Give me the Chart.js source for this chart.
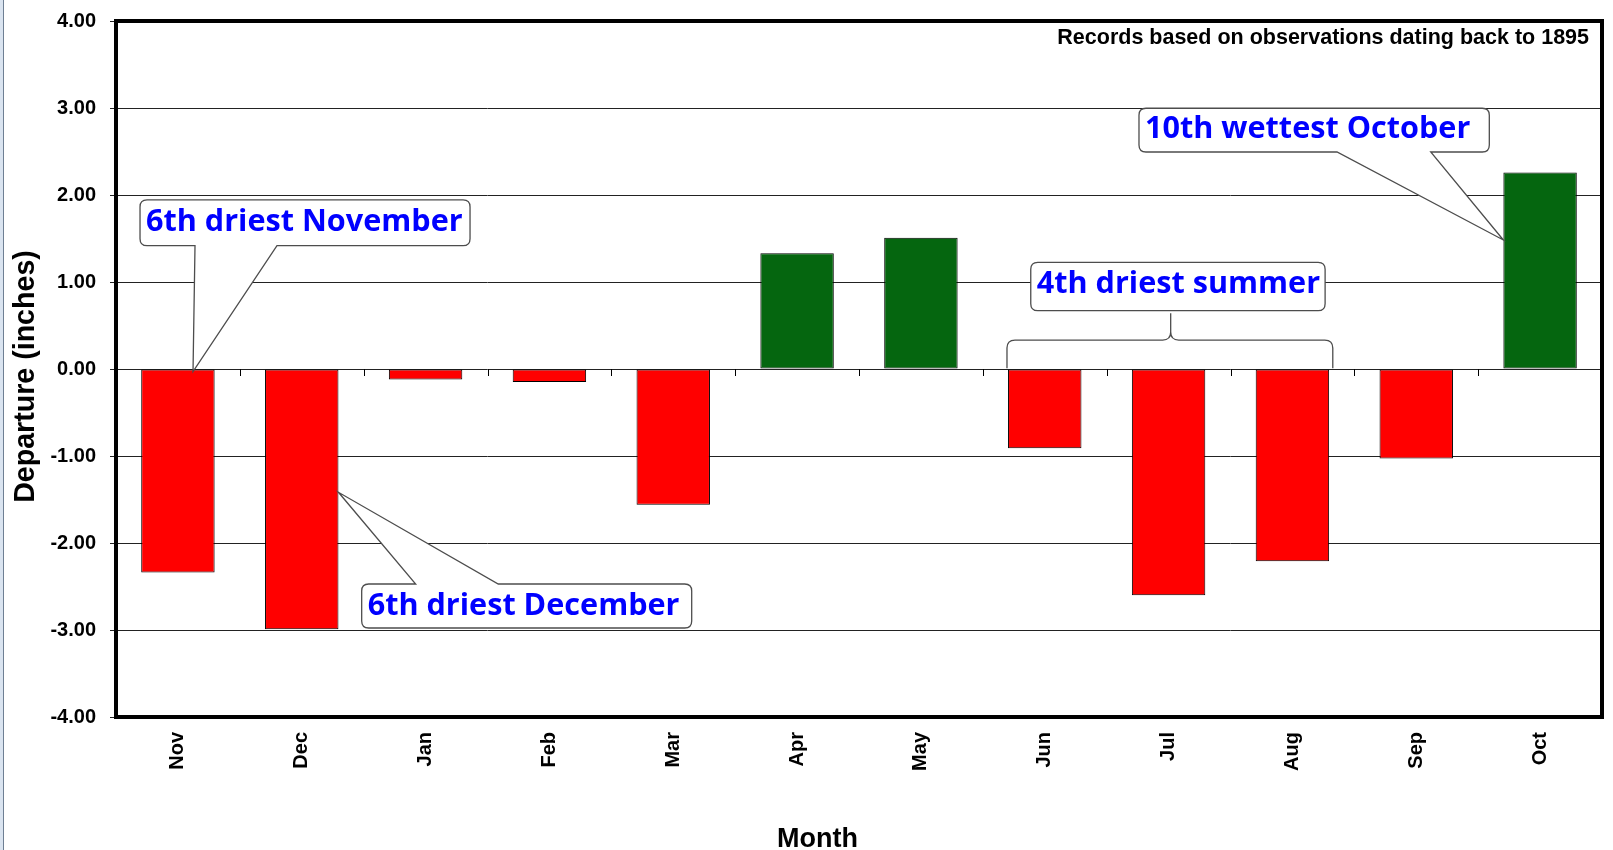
<!DOCTYPE html>
<html><head><meta charset="utf-8">
<script src="https://cdn.jsdelivr.net/npm/chart.js@4.4.1/dist/chart.umd.min.js"></script>
<style>
html,body{margin:0;padding:0;background:#fff;}
#wrap{position:relative;width:1613px;height:850px;overflow:hidden;background:#fff;}
#edge1{position:absolute;left:0;top:0;width:3px;height:850px;background:#dae4f0;}
#edge2{position:absolute;left:3px;top:0;width:1px;height:850px;background:#6e7f93;}
canvas{position:absolute;left:0;top:0;}
</style></head>
<body><div id="wrap"><canvas id="c" width="1613" height="850"></canvas><div id="edge1"></div><div id="edge2"></div></div>
<script>
// ---- data ----
const months = ['Nov','Dec','Jan','Feb','Mar','Apr','May','Jun','Jul','Aug','Sep','Oct'];
const departures = [-2.34,-2.99,-0.12,-0.15,-1.56,1.33,1.51,-0.91,-2.60,-2.21,-1.03,2.26];
const yTickValues = [-4,-3,-2,-1,0,1,2,3,4];
const yTitle = 'Departure (inches)';
const xTitle = 'Month';
const noteText = 'Records based on observations dating back to 1895';
const calloutTexts = ['6th driest November','6th driest December','4th driest summer','10th wettest October'];

// ---- annotation geometry (in data units: category index / value) ----
const callouts = [
  {text: calloutTexts[0], x0:-0.306, x1:2.359, yTop:1.943, yBot:1.417, side:'bottom', b0:0.138, b1:0.800, tipX:0.122, tipY:-0.03, base:31.5},
  {text: calloutTexts[1], x0:1.484, x1:4.149, yTop:-2.471, yBot:-2.977, side:'top', b0:1.920, b1:2.587, tipX:1.2965, tipY:-1.417, base:31},
  {text: calloutTexts[2], x0:6.887, x1:9.264, yTop:1.226, yBot:0.670, side:null, base:30.5},
  {text: calloutTexts[3], x0:7.761, x1:10.590, yTop:2.997, yBot:2.494, side:'bottom', b0:9.360, b1:10.117, tipX:10.7035, tipY:1.483, base:29.5}
];
const brace = {x0:6.695, x1:9.326, xPeak:8.017, yBase:0.01, yMid:0.333, yPeak:0.640};

const FONT = 'Liberation Sans';
const RED = '#ff0000', GREEN = '#05660f';

function calloutPath(ctx, l, t, r, b, rad, side, bx0, bx1, tx, ty){
  ctx.beginPath();
  ctx.moveTo(l+rad, t);
  if(side==='top'){ ctx.lineTo(bx0,t); ctx.lineTo(tx,ty); ctx.lineTo(bx1,t); }
  ctx.lineTo(r-rad,t);
  ctx.quadraticCurveTo(r,t,r,t+rad);
  ctx.lineTo(r,b-rad);
  ctx.quadraticCurveTo(r,b,r-rad,b);
  if(side==='bottom'){ ctx.lineTo(bx1,b); ctx.lineTo(tx,ty); ctx.lineTo(bx0,b); }
  ctx.lineTo(l+rad,b);
  ctx.quadraticCurveTo(l,b,l,b-rad);
  ctx.lineTo(l,t+rad);
  ctx.quadraticCurveTo(l,t,l+rad,t);
  ctx.closePath();
}

const annotPlugin = {
  id:'annot',
  afterDatasetsDraw(chart){
    const {ctx, chartArea:a, scales:{x,y}} = chart;
    ctx.save();
    // tick marks on the zero line
    ctx.strokeStyle='#000'; ctx.lineWidth=1;
    const y0 = Math.round(y.getPixelForValue(0));
    for(let i=0;i<months.length-1;i++){
      const px = Math.round(x.getPixelForValue(i+0.5))+0.5;
      ctx.beginPath(); ctx.moveTo(px,y0); ctx.lineTo(px,y0+7); ctx.stroke();
    }
    // plot frame
    ctx.lineWidth=4; ctx.strokeStyle='#000';
    ctx.strokeRect(a.left, a.top, a.right-a.left, a.bottom-a.top);

    // callouts
    callouts.forEach(c=>{
      const l=x.getPixelForValue(c.x0), r=x.getPixelForValue(c.x1);
      const t=y.getPixelForValue(c.yTop), b=y.getPixelForValue(c.yBot);
      let bx0=0,bx1=0,tx=0,ty=0;
      if(c.side){ bx0=x.getPixelForValue(c.b0); bx1=x.getPixelForValue(c.b1); tx=x.getPixelForValue(c.tipX); ty=y.getPixelForValue(c.tipY); }
      calloutPath(ctx,l,t,r,b,7,c.side,bx0,bx1,tx,ty);
      ctx.fillStyle='#fff'; ctx.fill();
      ctx.lineWidth=1.3; ctx.strokeStyle='#4d4d4d'; ctx.stroke();
      ctx.fillStyle='#0000ff';
      ctx.font='bold 30.6px "Open Sans"';
      ctx.textAlign='left'; ctx.textBaseline='alphabetic';
      ctx.fillText(c.text, l+6, t+c.base);
    });

    // brace under summer callout
    const bx0=x.getPixelForValue(brace.x0), bx1=x.getPixelForValue(brace.x1), xp=x.getPixelForValue(brace.xPeak);
    const yb=y.getPixelForValue(brace.yBase), ym=y.getPixelForValue(brace.yMid), yp=y.getPixelForValue(brace.yPeak);
    const rr=8;
    ctx.beginPath();
    ctx.moveTo(bx0,yb);
    ctx.lineTo(bx0,ym+rr);
    ctx.quadraticCurveTo(bx0,ym,bx0+rr,ym);
    ctx.lineTo(xp-rr,ym);
    ctx.quadraticCurveTo(xp,ym,xp,ym-rr);
    ctx.lineTo(xp,yp);
    ctx.moveTo(xp,ym-rr);
    ctx.quadraticCurveTo(xp,ym,xp+rr,ym);
    ctx.lineTo(bx1-rr,ym);
    ctx.quadraticCurveTo(bx1,ym,bx1,ym+rr);
    ctx.lineTo(bx1,yb);
    ctx.lineWidth=1.3; ctx.strokeStyle='#4d4d4d'; ctx.stroke();

    // note text
    ctx.fillStyle='#000';
    ctx.font='bold 21.5px "'+FONT+'"';
    ctx.textAlign='right'; ctx.textBaseline='alphabetic';
    ctx.fillText(noteText, a.right-13, a.top+23);

    // x axis title
    ctx.font='bold 27px "'+FONT+'"';
    ctx.textAlign='center';
    ctx.fillText(xTitle, 817.5, 847);

    // y axis title
    ctx.save();
    ctx.translate(26, (a.top+a.bottom)/2 + 7.5);
    ctx.rotate(-Math.PI/2);
    ctx.font='bold 28.6px "'+FONT+'"';
    ctx.textAlign='center'; ctx.textBaseline='middle';
    ctx.fillText(yTitle, 0, 0);
    ctx.restore();
    ctx.restore();
  }
};

new Chart(document.getElementById('c'), {
  type:'bar',
  data:{
    labels: months,
    datasets:[{
      data: departures,
      backgroundColor: departures.map(v=> v<0 ? RED : GREEN),
      borderColor:'#000',
      borderWidth:1,
      borderSkipped:false,
      barPercentage:0.593,
      categoryPercentage:1
    }]
  },
  options:{
    responsive:false,
    devicePixelRatio:1,
    animation:false,
    layout:{padding:{left:0,top:21,right:11,bottom:0}},
    plugins:{legend:{display:false}, tooltip:{enabled:false}, title:{display:false}},
    scales:{
      x:{
        grid:{display:false, drawTicks:false},
        border:{display:false},
        ticks:{color:'#000', font:{family:FONT, size:20, weight:'bold'}, minRotation:90, maxRotation:90, padding:15, autoSkip:false},
        afterFit(s){ s.height = 133; s.paddingLeft = 0; s.paddingRight = 0; }
      },
      y:{
        min:-4, max:4,
        afterBuildTicks(s){ s.ticks = yTickValues.map(v=>({value:v})); },
        grid:{color:'#222', lineWidth:1, tickLength:6, drawTicks:true},
        border:{display:false},
        ticks:{color:'#000', font:{family:FONT, size:20, weight:'bold'}, padding:14, callback:v=>Number(v).toFixed(2)},
        title:{display:false, text:yTitle},
        afterFit(s){ s.width = 116; s.paddingTop = 0; s.paddingBottom = 0; }
      }
    }
  },
  plugins:[annotPlugin]
});
</script>
</body></html>
